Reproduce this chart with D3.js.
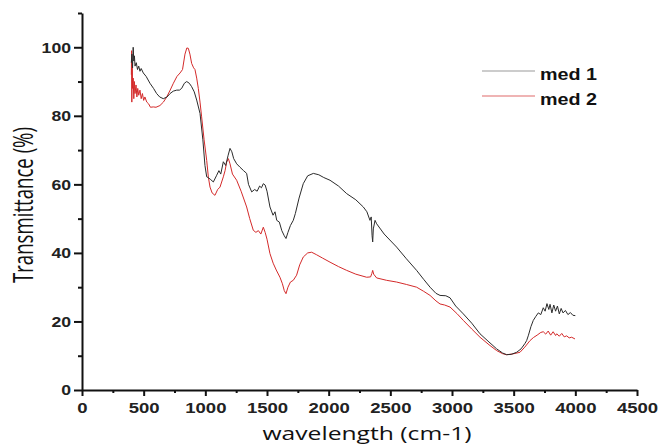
<!DOCTYPE html>
<html>
<head>
<meta charset="utf-8">
<script src="https://cdn.jsdelivr.net/npm/d3@7"></script>
<style>
  html, body { margin: 0; padding: 0; background: #fff; }
  svg { display: block; }
</style>
</head>
<body>
<svg id="chart" width="659" height="446"></svg>
<script>
// ---- data ----
const wn1 = [400,405,410,415,420,425,430,440,450,460,470,480,497,520,551,580,605,630,659,690,714,740,768,790,808,830,849,870,889,910,930,957,980,997,1011,1022,1040,1065,1090,1110,1125,1146,1165,1185,1200,1215,1230,1254,1281,1310,1335,1350,1376,1400,1420,1440,1455,1470,1485,1500,1524,1549,1565,1579,1600,1620,1640,1654,1670,1690,1713,1730,1760,1794,1830,1876,1920,1960,2011,2080,2146,2220,2281,2310,2335,2345,2352,2357,2362,2376,2389,2450,2551,2630,2713,2770,2822,2870,2903,2950,2984,3030,3092,3160,3227,3300,3362,3410,3443,3480,3524,3560,3590,3605,3620,3640,3659,3680,3700,3720,3740,3755,3770,3785,3795,3810,3825,3840,3855,3870,3885,3900,3920,3940,3960,3980,4000];
const med1 = [95.5,98,94,100,96,97.5,94.5,95.5,93.5,94.5,93,93.8,92.5,91.5,89.5,88,86.5,85.5,85,85.5,86.5,87.2,87.5,87.5,88,89.5,90,89.5,88.5,87,84.6,80.7,73,65.5,62.2,62,61.5,60.7,62.5,64,63,66.6,65.5,68.5,70.5,69.5,67.5,66,65,64,63.2,60,57.8,58.5,58,59.5,59,60.2,59.8,58,53.4,51,52,49.5,49,46.5,45,44.2,46,48,49.5,51.5,56,60.2,62.5,63.2,62.8,62,61.2,59.5,57.3,55.5,53.4,52,49.5,50.5,45,43.2,47,49.5,48.5,45.5,41.7,38.3,34.9,32.3,30,28.2,27.6,27.5,26.9,24.5,22.2,19.5,16.4,14,12,10.8,10.3,10.4,11,12,13.5,14.4,16,18.5,20.3,21.5,22.5,22,24,23,25.2,23.5,25,22.5,24.8,23,24.5,22.2,23.8,22.5,23.2,22,22.6,21.8,21.7];

const wn2 = [400,402,404,407,410,415,420,425,430,438,445,452,460,470,480,490,500,510,525,540,555,578,600,632,660,687,715,741,770,795,815,835,850,862,875,889,905,916,930,943,957,970,990,1011,1025,1038,1055,1078,1100,1119,1146,1160,1173,1187,1200,1220,1254,1290,1335,1360,1389,1410,1430,1450,1470,1485,1500,1524,1550,1575,1605,1625,1640,1654,1670,1690,1713,1740,1765,1794,1830,1862,1900,1950,2011,2080,2146,2220,2308,2340,2350,2357,2365,2389,2470,2551,2630,2713,2770,2822,2870,2903,2940,2984,3040,3092,3160,3227,3300,3362,3410,3443,3490,3551,3590,3632,3660,3690,3720,3740,3760,3780,3800,3820,3840,3849,3870,3890,3910,3930,3950,3970,3997];
const med2 = [92,99,84,95,88,91,85,90,86.5,89,85.5,88,86,87.5,85,86.5,84.5,85.5,84,83.5,82.5,82.6,82.5,83,84,85.5,87.5,89.5,91.5,92.5,93.5,98,99.8,99.7,98,95.3,94,93.5,91,88,84,79.7,73,67,62,59.2,57.5,56.8,58.5,59.2,62.2,64,66.5,67.5,66,63,61.2,58,53.4,50,46.6,46,46.5,45.5,47.5,46,44,39.8,37,35,32.9,31,29,28.1,30,31.5,32,33.5,36.5,38.8,40,40.2,39.5,38.5,37.3,36,34.9,33.8,32.9,33,34,34.9,33.8,32.7,32,31.5,30.8,30,28.8,27.6,26,25.1,24.8,24.2,22.3,20.3,17.8,15.4,13.2,11.5,10.6,10.3,10.5,11,12.5,14.4,15.3,16,16.8,17,16.3,17.2,16,17,15.9,16.4,15.7,16.5,15.5,15.8,15.2,15.4,14.9];

const seriesNames = ["med 1", "med 2"];
const xTicks = [0,500,1000,1500,2000,2500,3000,3500,4000,4500];
const xMinor = [250,750,1250,1750,2250,2750,3250,3750,4250];
const yTicks = [0,20,40,60,80,100];
const yMinor = [10,30,50,70,90,110];
const xTitle = "wavelength (cm-1)";
const yTitle = "Transmittance (%)";

// ---- layout ----
const svg = d3.select("#chart");
const x = d3.scaleLinear().domain([0, 4500]).range([82, 637]);
const y = d3.scaleLinear().domain([0, 110]).range([390, 13]);

const colors = ["#2b2b2b", "#d42a2a"];
const legendColors = ["#9a9a9a", "#e06a6a"];

const line = d3.line().x(d => x(d[0])).y(d => y(d[1]));
const data1 = wn1.map((w, i) => [w, med1[i]]);
const data2 = wn2.map((w, i) => [w, med2[i]]);

svg.append("path").datum(data2).attr("d", line)
  .attr("fill", "none").attr("stroke", colors[1]).attr("stroke-width", 1);
svg.append("path").datum(data1).attr("d", line)
  .attr("fill", "none").attr("stroke", colors[0]).attr("stroke-width", 1);

// axes
const xAxis = svg.append("g").attr("transform", "translate(0,390)")
  .call(d3.axisBottom(x).tickValues(xTicks).tickSize(6).tickSizeOuter(0).tickPadding(6).tickFormat(d3.format("d")));
svg.append("g").attr("transform", "translate(0,390)")
  .call(d3.axisBottom(x).tickValues(xMinor).tickSize(3).tickSizeOuter(0).tickFormat(""))
  .select(".domain").remove();
const yAxis = svg.append("g").attr("transform", "translate(82,0)")
  .call(d3.axisLeft(y).tickValues(yTicks).tickSize(8).tickSizeOuter(0).tickPadding(3).tickFormat(d3.format("d")));
svg.append("g").attr("transform", "translate(82,0)")
  .call(d3.axisLeft(y).tickValues(yMinor).tickSize(4).tickSizeOuter(0).tickFormat(""))
  .select(".domain").remove();

svg.selectAll(".domain").attr("stroke", "#111").attr("stroke-width", 2);
svg.selectAll(".tick line").attr("stroke", "#111").attr("stroke-width", 2);

xAxis.selectAll("text")
  .attr("font-family", "Liberation Sans, Arial, sans-serif")
  .attr("font-size", 15).attr("font-weight", "bold").attr("fill", "#222")
  .attr("textLength", d => String(d).length * 10.3)
  .attr("lengthAdjust", "spacingAndGlyphs");
yAxis.selectAll("text")
  .attr("font-family", "Liberation Sans, Arial, sans-serif")
  .attr("font-size", 15).attr("font-weight", "bold").attr("fill", "#222")
  .attr("textLength", d => String(d).length * 9.8)
  .attr("lengthAdjust", "spacingAndGlyphs");

// titles
svg.append("text")
  .attr("x", 367).attr("y", 440)
  .attr("text-anchor", "middle")
  .attr("font-family", "Open Sans, sans-serif")
  .attr("font-size", 18).attr("fill", "#111")
  .attr("textLength", 209).attr("lengthAdjust", "spacingAndGlyphs")
  .text(xTitle);

svg.append("text")
  .attr("transform", "translate(33,205) scale(1.4,1) rotate(-90)")
  .attr("text-anchor", "middle")
  .attr("font-family", "Open Sans, sans-serif")
  .attr("font-size", 20).attr("fill", "#111")
  .attr("textLength", 156).attr("lengthAdjust", "spacingAndGlyphs")
  .text(yTitle);

// legend
const legend = svg.append("g");
seriesNames.forEach((name, i) => {
  const ly = 71 + i * 25;
  legend.append("line")
    .attr("x1", 482).attr("x2", 535).attr("y1", ly).attr("y2", ly)
    .attr("stroke", legendColors[i]).attr("stroke-width", 1.2);
  legend.append("text")
    .attr("x", 540).attr("y", ly + 9)
    .attr("font-family", "Liberation Sans, Arial, sans-serif")
    .attr("font-size", 17).attr("font-weight", "bold").attr("fill", "#111")
    .attr("textLength", 57).attr("lengthAdjust", "spacingAndGlyphs")
    .text(name);
});
</script>
</body>
</html>
